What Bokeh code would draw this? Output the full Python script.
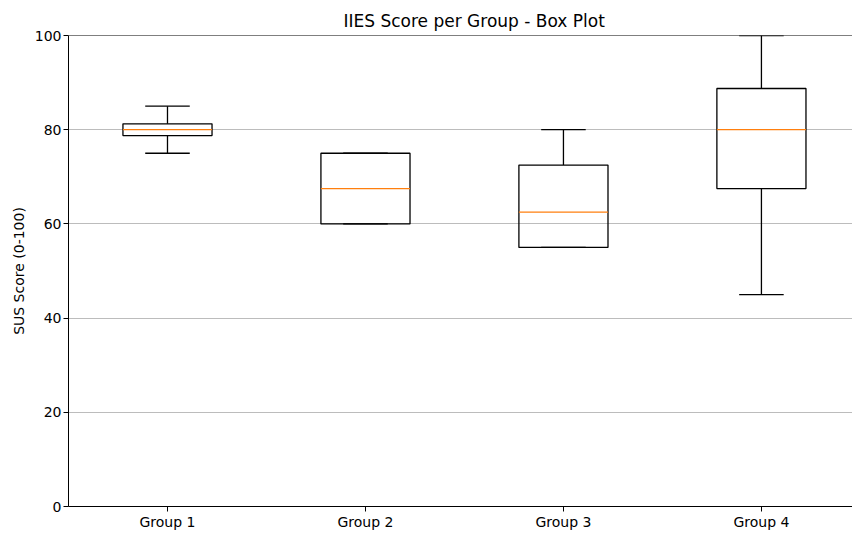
from bokeh.plotting import figure
from bokeh.models import FixedTicker, Span, Range1d
from bokeh.embed import file_html
from bokeh.resources import INLINE

groups = ["Group 1", "Group 2", "Group 3", "Group 4"]
positions = [1, 2, 3, 4]
q1 = [78.75, 60.0, 55.0, 67.5]
q3 = [81.25, 75.0, 72.5, 88.75]
medians = [80.0, 67.5, 62.5, 80.0]
whisk_lo = [75.0, 60.0, 55.0, 45.0]
whisk_hi = [85.0, 75.0, 80.0, 100.0]
y_ticks = [0, 20, 40, 60, 80, 100]

box_half = 0.225
cap_half = 0.1125

FONT = "DejaVu Sans"
LW = 1.3

p = figure(frame_width=784, frame_height=471, output_backend="svg", toolbar_location=None,
           x_range=Range1d(0.5, 4.46), y_range=Range1d(0, 100),
           min_border_left=68, min_border_right=0, min_border_top=35, min_border_bottom=24,
           title="IIES Score per Group - Box Plot")
p.outline_line_color = None
p.background_fill_color = "white"
p.border_fill_color = "white"

p.title.text_font = FONT
p.title.text_font_size = "17px"
p.title.text_font_style = "normal"
p.title.align = "left"
p.title.offset = 275
p.title.text_color = "black"

# grid
p.xgrid.visible = False
p.ygrid.grid_line_color = "#bcbcbc"
p.ygrid.grid_line_width = 1
p.ygrid.ticker = FixedTicker(ticks=y_ticks)

# axes
p.xaxis.ticker = FixedTicker(ticks=positions)
p.xaxis.major_label_overrides = {pos: g for pos, g in zip(positions, groups)}
p.yaxis.ticker = FixedTicker(ticks=y_ticks)
p.yaxis.axis_label = "SUS Score (0-100)"
for ax in (p.xaxis[0], p.yaxis[0]):
    ax.axis_line_color = "black"
    ax.axis_line_width = 1
    ax.major_tick_line_color = "black"
    ax.major_tick_out = 5
    ax.major_tick_in = 0
    ax.minor_tick_line_color = None
    ax.major_label_text_font = FONT
    ax.major_label_text_font_size = "14px"
    ax.major_label_text_color = "black"
    ax.major_label_standoff = 2
p.yaxis.axis_label_text_font = FONT
p.yaxis.axis_label_text_font_size = "14px"
p.yaxis.axis_label_text_font_style = "normal"
p.yaxis.axis_label_text_color = "black"
p.yaxis.axis_label_standoff = 5

# top spine
p.add_layout(Span(location=100, dimension="width", line_color="black", line_width=1))

left = [x - box_half for x in positions]
right = [x + box_half for x in positions]
cl = [x - cap_half for x in positions]
cr = [x + cap_half for x in positions]

# whiskers
p.segment(x0=positions, y0=q1, x1=positions, y1=whisk_lo, line_color="black", line_width=LW)
p.segment(x0=positions, y0=q3, x1=positions, y1=whisk_hi, line_color="black", line_width=LW)
# caps
p.segment(x0=cl, y0=whisk_lo, x1=cr, y1=whisk_lo, line_color="black", line_width=LW)
p.segment(x0=cl, y0=whisk_hi, x1=cr, y1=whisk_hi, line_color="black", line_width=LW)
# boxes
p.quad(left=left, right=right, bottom=q1, top=q3, fill_color=None,
       line_color="black", line_width=LW)
# medians
p.segment(x0=left, y0=medians, x1=right, y1=medians, line_color="#ff7f0e", line_width=LW)

open("out.html", "w").write(file_html(p, INLINE))
